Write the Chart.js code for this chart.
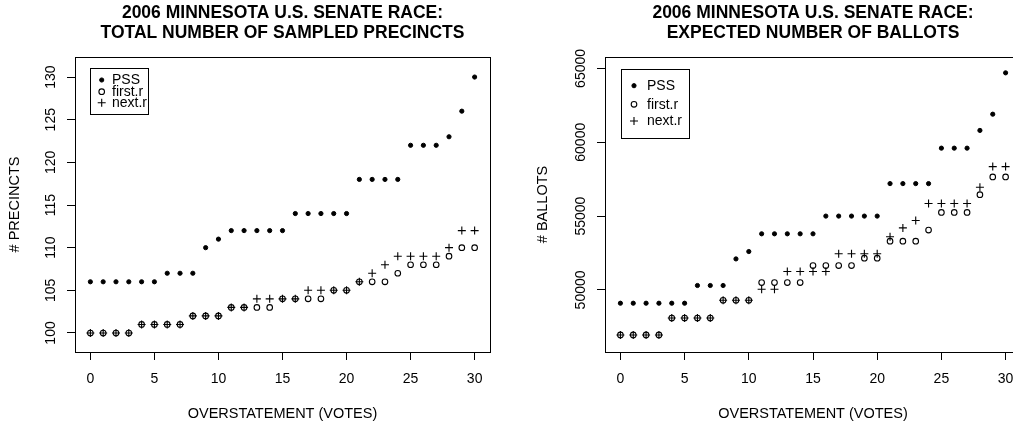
<!DOCTYPE html>
<html>
<head>
<meta charset="utf-8">
<script src="https://cdn.jsdelivr.net/npm/chart.js@4.4.0/dist/chart.umd.min.js"></script>
<style>
    body { margin: 0; background: #fff; }
    #wrap { position: relative; width: 1013px; height: 426px; overflow: hidden; background: #fff; }
    #precinctsChart { position: absolute; left: 0; top: 0; }
    #ballotsChart { position: absolute; left: 506px; top: 0; }
</style>
</head>
<body>
<div id="wrap">
    <canvas id="precinctsChart" width="506" height="426"></canvas>
    <canvas id="ballotsChart" width="530" height="426"></canvas>
</div>
<script>
// Overstatement in votes (x axis, shared by both panels)
const overstatement = [0, 1, 2, 3, 4, 5, 6, 7, 8, 9, 10, 11, 12, 13, 14, 15, 16, 17, 18, 19, 20, 21, 22, 23, 24, 25, 26, 27, 28, 29, 30];

// Left panel: total number of sampled precincts
const precinctsPSS   = [106, 106, 106, 106, 106, 106, 107, 107, 107, 110, 111, 112, 112, 112, 112, 112, 114, 114, 114, 114, 114, 118, 118, 118, 118, 122, 122, 122, 123, 126, 130];
const precinctsFirst = [100, 100, 100, 100, 101, 101, 101, 101, 102, 102, 102, 103, 103, 103, 103, 104, 104, 104, 104, 105, 105, 106, 106, 106, 107, 108, 108, 108, 109, 110, 110];
const precinctsNext  = [100, 100, 100, 100, 101, 101, 101, 101, 102, 102, 102, 103, 103, 104, 104, 104, 104, 105, 105, 105, 105, 106, 107, 108, 109, 109, 109, 109, 110, 112, 112];

// Right panel: expected number of ballots
const ballotsPSS   = [49100, 49100, 49100, 49100, 49100, 49100, 50300, 50300, 50300, 52100, 52600, 53800, 53800, 53800, 53800, 53800, 55000, 55000, 55000, 55000, 55000, 57200, 57200, 57200, 57200, 59600, 59600, 59600, 60800, 61900, 64700];
const ballotsFirst = [46950, 46950, 46950, 46950, 48100, 48100, 48100, 48100, 49300, 49300, 49300, 50500, 50500, 50500, 50500, 51650, 51650, 51650, 51650, 52150, 52150, 53300, 53300, 53300, 54050, 55250, 55250, 55250, 56450, 57650, 57650];
const ballotsNext  = [46950, 46950, 46950, 46950, 48100, 48100, 48100, 48100, 49300, 49300, 49300, 50050, 50050, 51250, 51250, 51250, 51250, 52450, 52450, 52450, 52450, 53600, 54200, 54700, 55850, 55850, 55850, 55850, 56950, 58350, 58350];

// Tick labels
const xTicks = [0, 5, 10, 15, 20, 25, 30];
const precinctTicks = [100, 105, 110, 115, 120, 125, 130];
const ballotTicks = [50000, 55000, 60000, 65000];

const FONT = '"Liberation Sans", Arial, Helvetica, sans-serif';
Chart.defaults.font.family = FONT;
Chart.defaults.color = '#000';

// Box around the plot region (R's default frame)
const frameBox = {
    id: 'frameBox',
    afterDraw(chart) {
        const { ctx, chartArea: a } = chart;
        const l = Math.round(a.left - 0.5) + 0.5;
        const r = Math.round(a.right - 0.5) + 0.5;
        const t = Math.round(a.top - 0.5) + 0.5;
        const b = Math.round(a.bottom - 0.5) + 0.5;
        ctx.save();
        ctx.strokeStyle = '#000';
        ctx.lineWidth = 1;
        ctx.strokeRect(l, t, r - l, b - t);
        ctx.restore();
    }
};

// Y tick labels written parallel to the axis
const verticalTickLabels = {
    id: 'verticalTickLabels',
    afterDraw(chart) {
        const { ctx, chartArea } = chart;
        const scale = chart.scales.y;
        ctx.save();
        ctx.fillStyle = '#000';
        ctx.font = '14px ' + FONT;
        ctx.textAlign = 'center';
        ctx.textBaseline = 'middle';
        scale.ticks.forEach(tick => {
            ctx.save();
            ctx.translate(chartArea.left - 24, scale.getPixelForValue(tick.value));
            ctx.rotate(-Math.PI / 2);
            ctx.fillText(String(tick.value), 0, 0);
            ctx.restore();
        });
        ctx.restore();
    }
};

// Legend box drawn inside the plot, like R's legend()
const boxLegend = {
    id: 'boxLegend',
    afterDraw(chart, args, opts) {
        const { ctx } = chart;
        const [bx, by, bw, bh] = opts.box;
        ctx.save();
        ctx.strokeStyle = '#000';
        ctx.lineWidth = 1;
        ctx.strokeRect(Math.round(bx) + 0.5, Math.round(by) + 0.5, Math.round(bw), Math.round(bh));
        ctx.font = '14px ' + FONT;
        ctx.fillStyle = '#000';
        ctx.textAlign = 'left';
        ctx.textBaseline = 'middle';
        chart.data.datasets.forEach((ds, i) => {
            const y = opts.rows[i];
            ctx.save();
            ctx.strokeStyle = ds.borderColor;
            ctx.fillStyle = ds.backgroundColor;
            ctx.lineWidth = ds.borderWidth;
            Chart.helpers.drawPoint(ctx, { pointStyle: ds.pointStyle, radius: ds.pointRadius, rotation: 0, borderWidth: ds.borderWidth }, opts.symbolX, y);
            ctx.restore();
            ctx.fillText(ds.label, opts.textX, y + 0.5);
        });
        ctx.restore();
    }
};

function toPoints(values) {
    return overstatement.map((x, i) => ({ x: x, y: values[i] }));
}

function makeDatasets(pss, first, next) {
    return [
        { label: 'PSS', data: toPoints(pss), pointStyle: 'circle', pointRadius: 2.1, borderWidth: 1, borderColor: '#000', backgroundColor: '#000' },
        { label: 'first.r', data: toPoints(first), pointStyle: 'circle', pointRadius: 2.8, borderWidth: 1.1, borderColor: '#000', backgroundColor: 'rgba(0,0,0,0)' },
        { label: 'next.r', data: toPoints(next), pointStyle: 'cross', pointRadius: 4, borderWidth: 1.1, borderColor: '#000', backgroundColor: 'rgba(0,0,0,0)' }
    ];
}

function makeChart(canvasId, cfg) {
    const ctx = document.getElementById(canvasId).getContext('2d');
    return new Chart(ctx, {
        type: 'scatter',
        data: { datasets: makeDatasets(cfg.pss, cfg.first, cfg.next) },
        options: {
            responsive: false,
            animation: false,
            events: [],
            layout: { padding: { left: 0, right: cfg.rightPad, top: 0, bottom: 0 } },
            plugins: {
                legend: { display: false },
                tooltip: { enabled: false },
                title: {
                    display: true,
                    fullSize: false,
                    text: cfg.title,
                    color: '#000',
                    font: { size: 17.5, weight: 'bold', lineHeight: 1.12 },
                    padding: { top: 3.7, bottom: 14.1 }
                },
                boxLegend: cfg.legend
            },
            scales: {
                x: {
                    type: 'linear',
                    position: 'bottom',
                    min: -1.2,
                    max: 31.2,
                    afterBuildTicks: scale => { scale.ticks = xTicks.map(v => ({ value: v })); },
                    afterFit: scale => { scale.height = 74; },
                    grid: { drawOnChartArea: false, drawTicks: true, tickLength: 8, color: '#000', lineWidth: 1 },
                    border: { display: true, color: '#000', width: 1 },
                    ticks: { autoSkip: false, maxRotation: 0, font: { size: 14 }, color: '#000', padding: 11 },
                    title: { display: true, text: 'OVERSTATEMENT (VOTES)', font: { size: 14.5 }, color: '#000', padding: { top: 0, bottom: 3.4 } }
                },
                y: {
                    type: 'linear',
                    position: 'left',
                    min: cfg.yMin,
                    max: cfg.yMax,
                    afterBuildTicks: scale => { scale.ticks = cfg.yTicks.map(v => ({ value: v })); },
                    afterFit: scale => { scale.width = cfg.yWidth; },
                    grid: { drawOnChartArea: false, drawTicks: true, tickLength: 8, color: '#000', lineWidth: 1 },
                    border: { display: true, color: '#000', width: 1 },
                    ticks: { display: false },
                    title: { display: true, text: cfg.yTitle, font: { size: 14.5 }, color: '#000', padding: { top: cfg.yTitlePad, bottom: 0 } }
                }
            }
        },
        plugins: [frameBox, verticalTickLabels, boxLegend]
    });
}

makeChart('precinctsChart', {
    title: ['2006 MINNESOTA U.S. SENATE RACE:', 'TOTAL NUMBER OF SAMPLED PRECINCTS'],
    pss: precinctsPSS, first: precinctsFirst, next: precinctsNext,
    yMin: 97.77, yMax: 132.35, yTicks: precinctTicks,
    yTitle: '# PRECINCTS', yTitlePad: 6.3, yWidth: 75, rightPad: 16,
    legend: { box: [90, 68, 58, 46], rows: [80, 91.7, 102.7], symbolX: 101.7, textX: 112 }
});

makeChart('ballotsChart', {
    title: ['2006 MINNESOTA U.S. SENATE RACE:', 'EXPECTED NUMBER OF BALLOTS'],
    pss: ballotsPSS, first: ballotsFirst, next: ballotsNext,
    yMin: 45797, yMax: 65773, yTicks: ballotTicks,
    yTitle: '# BALLOTS', yTitlePad: 28.3, yWidth: 99, rightPad: 15,
    legend: { box: [115, 69, 68, 69], rows: [85.7, 104.3, 121], symbolX: 128, textX: 141 }
});
</script>
</body>
</html>
